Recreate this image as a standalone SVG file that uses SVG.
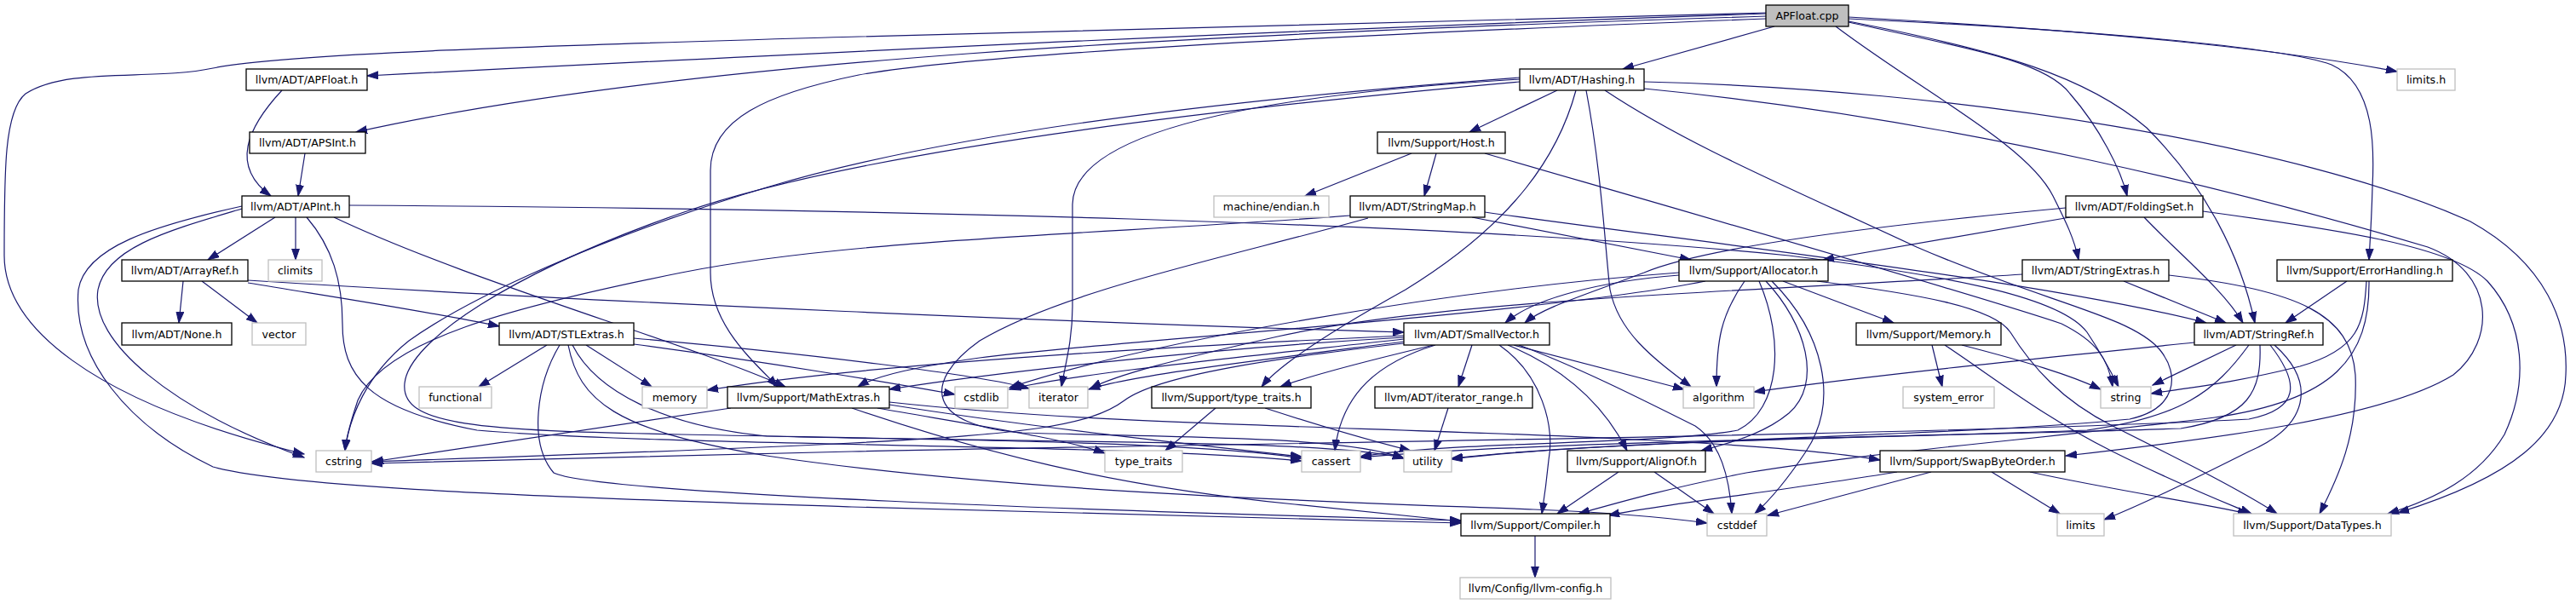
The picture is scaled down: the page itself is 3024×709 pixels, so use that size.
<svg xmlns="http://www.w3.org/2000/svg" width="3024" height="709" viewBox="0 0 3024 709">
<style>
.n rect{fill:#fff;stroke:#000;stroke-width:1.3}
.g rect{fill:#fff;stroke:#bfbfbf;stroke-width:1.3}
.r rect{fill:#bfbfbf;stroke:#000;stroke-width:1.3}
text{font-family:"DejaVu Sans","Liberation Sans",sans-serif;font-size:12.6px;text-anchor:middle;fill:#000}
#edges path{fill:none;stroke:#191970;stroke-width:1.2;marker-end:url(#a)}
</style>
<defs>
<marker id="a" markerWidth="14" markerHeight="10" refX="13" refY="5" orient="auto" markerUnits="userSpaceOnUse"><path d="M0,0.6 L13,5 L0,9.4 z" fill="#191970" stroke="#191970" stroke-width="1"/></marker>
</defs>
<rect width="3024" height="709" fill="#fff"/>
<g id="edges">
<path d="M2073,16 C1500,35 900,65 431,89"/>
<path d="M2073,19 C1400,40 800,70 418,155"/>
<path d="M2075,15 C1600,25 1200,38 1008,43 C700,52 330,62 250,80 C180,95 80,78 30,110 C5,130 5,200 5,300 C5,380 100,470 357,533"/>
<path d="M2083,31 L1905,81"/>
<path d="M2073,22 C1600,40 1150,62 1008,88 C900,110 834,140 834,200 L834,320 C834,380 880,420 913,454"/>
<path d="M2170,26 C2300,55 2400,70 2430,110 C2465,150 2490,200 2497,230"/>
<path d="M2155,31 C2260,110 2380,170 2410,230 C2425,260 2435,280 2440,305"/>
<path d="M2170,25 C2350,60 2450,90 2520,150 C2590,220 2630,300 2647,379"/>
<path d="M2170,22 C2450,35 2680,55 2737,76 C2790,100 2787,180 2785,220 C2784,260 2782,285 2781,305"/>
<path d="M2170,20 C2500,38 2700,62 2814,84"/>
<path d="M331,106 C290,150 270,195 318,230"/>
<path d="M358,180 L350,230"/>
<path d="M323,255 L244,305"/>
<path d="M347,255 L347,305"/>
<path d="M284,245 C200,270 125,290 115,340 C105,400 200,480 357,537"/>
<path d="M284,242 C180,265 100,290 92,340 C85,420 150,500 250,548 C350,575 700,585 1000,595 C1300,605 1600,610 1715,614"/>
<path d="M360,255 C390,290 402,330 402,380 C402,440 430,480 560,505 C800,525 1300,520 1528,541"/>
<path d="M392,255 C550,330 800,400 922,454"/>
<path d="M410,241 C1000,245 1700,260 2100,300 C2300,325 2420,350 2450,390 C2470,420 2480,440 2487,454"/>
<path d="M1828,106 L1725,155"/>
<path d="M1850,106 C1830,180 1780,260 1650,340 C1560,390 1500,430 1481,454"/>
<path d="M1784,93 C1500,110 1260,150 1259,240 L1259,360 C1259,400 1250,430 1246,454"/>
<path d="M1862,106 C1880,200 1885,300 1890,340 C1900,390 1940,420 1985,454"/>
<path d="M1784,91 C1400,120 1100,160 900,220 C700,280 550,350 480,400 C430,440 410,490 405,529"/>
<path d="M1784,96 C1400,130 1000,180 800,250 C600,320 480,400 475,450 C470,500 560,505 800,510 C1100,516 1400,518 1528,538"/>
<path d="M1884,106 C1980,170 2100,220 2250,290 C2400,355 2500,370 2535,410 C2560,440 2555,480 2500,492 C2300,512 1900,516 1704,538"/>
<path d="M1930,96 C2300,105 2700,170 2900,260 C2990,310 3015,380 3012,440 C3010,510 2950,560 2815,602"/>
<path d="M1930,104 C2300,140 2650,230 2850,290 C2930,320 2930,400 2880,440 C2800,490 2600,515 2425,535"/>
<path d="M1657,180 L1532,230"/>
<path d="M1686,180 L1672,230"/>
<path d="M1743,180 C1950,240 2300,340 2420,380 C2460,400 2475,420 2480,454"/>
<path d="M1728,255 L1985,305"/>
<path d="M1743,249 C2000,285 2400,330 2590,379"/>
<path d="M1585,253 C1300,275 1000,280 800,320 C600,360 450,400 420,470 C410,500 406,515 405,529"/>
<path d="M1606,256 C1450,300 1250,340 1150,400 C1080,450 1090,500 1200,508 C1400,514 1580,512 1648,538"/>
<path d="M2425,244 C2200,265 2000,290 1930,320 C1850,350 1810,362 1790,379"/>
<path d="M2430,255 L2140,305"/>
<path d="M2517,255 C2560,300 2610,340 2633,379"/>
<path d="M2586,248 C2750,270 2880,290 2920,330 C2965,380 2968,450 2940,510 C2910,560 2860,585 2803,603"/>
<path d="M2493,330 L2613,379"/>
<path d="M2546,323 C2700,340 2760,370 2765,440 C2768,510 2745,560 2723,603"/>
<path d="M2374,322 C2100,340 1700,350 1500,395 C1380,422 1310,440 1280,456"/>
<path d="M2755,330 L2683,379"/>
<path d="M2778,330 C2775,380 2770,410 2700,430 C2620,450 2570,455 2525,462"/>
<path d="M2781,330 C2782,420 2740,470 2600,490 C2400,515 2200,530 2050,555 C1950,575 1900,590 1853,603"/>
<path d="M215,330 L210,379"/>
<path d="M237,330 L302,379"/>
<path d="M291,332 C400,350 500,365 586,383"/>
<path d="M291,329 C700,355 1300,380 1648,390"/>
<path d="M1971,323 C1880,330 1800,350 1767,379"/>
<path d="M2073,330 C2120,380 2140,450 2100,485 C2070,510 2030,520 1997,529"/>
<path d="M2133,330 C2250,345 2340,360 2360,390 C2385,430 2420,470 2480,500 C2560,540 2630,575 2673,603"/>
<path d="M2002,330 C1800,370 1300,400 1150,420 C1080,430 1030,440 1007,454"/>
<path d="M2093,330 L2223,379"/>
<path d="M2048,330 C2020,370 2015,400 2015,454"/>
<path d="M2065,330 C2095,400 2090,480 2040,505 C1950,522 1700,518 1597,536"/>
<path d="M2080,330 C2140,390 2160,470 2120,530 C2100,560 2080,585 2060,603"/>
<path d="M1971,320 C1700,340 1350,400 1185,455"/>
<path d="M1770,405 C1830,430 1880,470 1910,529"/>
<path d="M1760,405 C1810,440 1825,500 1818,540 C1815,570 1812,590 1810,603"/>
<path d="M1648,396 C1400,410 1150,440 1044,457"/>
<path d="M1683,405 C1620,420 1540,440 1503,454"/>
<path d="M1728,405 L1712,454"/>
<path d="M1777,405 L1977,457"/>
<path d="M1783,405 C1850,430 1920,465 1990,500 C2020,520 2030,560 2033,603"/>
<path d="M1685,405 C1620,425 1575,460 1567,529"/>
<path d="M1648,398 C1450,420 1250,440 1185,457"/>
<path d="M1648,401 C1500,420 1330,440 1278,457"/>
<path d="M1648,394 C1300,410 1000,430 830,458"/>
<path d="M1648,403 C1500,420 1360,440 1320,470 C1280,500 1200,510 1000,520 C800,530 550,538 436,542"/>
<path d="M642,405 L562,454"/>
<path d="M688,405 L765,454"/>
<path d="M744,404 C900,425 1050,450 1121,463"/>
<path d="M744,397 C950,415 1150,440 1208,456"/>
<path d="M657,405 C630,450 620,520 650,555 C700,580 1300,600 1715,611"/>
<path d="M667,405 C680,470 720,505 900,535 C1200,580 1600,590 1800,598 C1900,602 1960,608 2004,614"/>
<path d="M672,405 C700,460 780,500 900,512 C1200,520 1560,515 1648,538"/>
<path d="M858,479 L437,542"/>
<path d="M1000,479 C1150,530 1300,570 1520,592 C1620,602 1680,608 1715,612"/>
<path d="M1030,479 C1150,500 1250,515 1297,532"/>
<path d="M1044,475 C1200,500 1400,522 1528,536"/>
<path d="M1044,472 C1300,500 1600,500 1900,515 C2050,522 2150,530 2207,540"/>
<path d="M1900,554 L1828,603"/>
<path d="M1942,554 L2012,603"/>
<path d="M1427,479 L1368,529"/>
<path d="M1485,479 C1550,500 1620,520 1656,529"/>
<path d="M1700,479 L1684,529"/>
<path d="M2268,405 L2280,454"/>
<path d="M2303,405 C2380,425 2430,440 2466,457"/>
<path d="M2283,405 C2350,450 2400,490 2480,530 C2550,565 2600,585 2643,603"/>
<path d="M2576,402 C2400,420 2200,440 2059,460"/>
<path d="M2625,405 L2527,452"/>
<path d="M2670,405 C2720,450 2710,500 2640,530 C2580,560 2520,590 2470,610"/>
<path d="M2640,405 C2600,460 2560,490 2450,505 C2200,515 1800,518 1597,537"/>
<path d="M2653,405 C2655,460 2640,490 2560,503 C2300,512 1900,515 1704,539"/>
<path d="M2665,405 C2700,450 2700,480 2640,492 C2300,510 1500,520 1000,530 C800,535 600,540 436,544"/>
<path d="M2227,554 C2100,575 1950,592 1888,605"/>
<path d="M2267,554 L2075,605"/>
<path d="M2338,554 L2418,603"/>
<path d="M2383,554 C2480,575 2580,590 2640,603"/>
<path d="M1802,629 L1802,678"/>
</g>
<g id="n-apfloat-cpp" class="r"><rect x="2073" y="6" width="97" height="25"/><text x="2121.5" y="23">APFloat.cpp</text></g>
<g id="n-apfloat-h" class="n"><rect x="289" y="81" width="142" height="25"/><text x="360" y="98">llvm/ADT/APFloat.h</text></g>
<g id="n-hashing" class="n"><rect x="1784" y="81" width="146" height="25"/><text x="1857" y="98">llvm/ADT/Hashing.h</text></g>
<g id="n-limits-h" class="g"><rect x="2814" y="81" width="68" height="25"/><text x="2848" y="98">limits.h</text></g>
<g id="n-apsint" class="n"><rect x="293" y="155" width="136" height="25"/><text x="361" y="172">llvm/ADT/APSInt.h</text></g>
<g id="n-host" class="n"><rect x="1617" y="155" width="150" height="25"/><text x="1692" y="172">llvm/Support/Host.h</text></g>
<g id="n-apint" class="n"><rect x="284" y="230" width="126" height="25"/><text x="347" y="247">llvm/ADT/APInt.h</text></g>
<g id="n-endian" class="g"><rect x="1425" y="230" width="135" height="25"/><text x="1492.5" y="247">machine/endian.h</text></g>
<g id="n-stringmap" class="n"><rect x="1585" y="230" width="158" height="25"/><text x="1664" y="247">llvm/ADT/StringMap.h</text></g>
<g id="n-foldingset" class="n"><rect x="2425" y="230" width="161" height="25"/><text x="2505.5" y="247">llvm/ADT/FoldingSet.h</text></g>
<g id="n-arrayref" class="n"><rect x="143" y="305" width="148" height="25"/><text x="217" y="322">llvm/ADT/ArrayRef.h</text></g>
<g id="n-climits" class="g"><rect x="315" y="305" width="63" height="25"/><text x="346.5" y="322">climits</text></g>
<g id="n-allocator" class="n"><rect x="1971" y="305" width="175" height="25"/><text x="2058.5" y="322">llvm/Support/Allocator.h</text></g>
<g id="n-stringextras" class="n"><rect x="2374" y="305" width="172" height="25"/><text x="2460" y="322">llvm/ADT/StringExtras.h</text></g>
<g id="n-errorhandling" class="n"><rect x="2673" y="305" width="206" height="25"/><text x="2776" y="322">llvm/Support/ErrorHandling.h</text></g>
<g id="n-none" class="n"><rect x="143" y="379" width="129" height="26"/><text x="207.5" y="396.5">llvm/ADT/None.h</text></g>
<g id="n-vector" class="g"><rect x="296" y="379" width="63" height="26"/><text x="327.5" y="396.5">vector</text></g>
<g id="n-stlextras" class="n"><rect x="586" y="379" width="158" height="26"/><text x="665" y="396.5">llvm/ADT/STLExtras.h</text></g>
<g id="n-smallvector" class="n"><rect x="1648" y="379" width="171" height="26"/><text x="1733.5" y="396.5">llvm/ADT/SmallVector.h</text></g>
<g id="n-memory-h" class="n"><rect x="2179" y="379" width="170" height="26"/><text x="2264" y="396.5">llvm/Support/Memory.h</text></g>
<g id="n-stringref" class="n"><rect x="2576" y="379" width="151" height="26"/><text x="2651.5" y="396.5">llvm/ADT/StringRef.h</text></g>
<g id="n-functional" class="g"><rect x="492" y="454" width="85" height="25"/><text x="534.5" y="471">functional</text></g>
<g id="n-memory" class="g"><rect x="754" y="454" width="76" height="25"/><text x="792" y="471">memory</text></g>
<g id="n-mathextras" class="n"><rect x="854" y="454" width="190" height="25"/><text x="949" y="471">llvm/Support/MathExtras.h</text></g>
<g id="n-cstdlib" class="g"><rect x="1121" y="454" width="62" height="25"/><text x="1152" y="471">cstdlib</text></g>
<g id="n-iterator" class="g"><rect x="1208" y="454" width="69" height="25"/><text x="1242.5" y="471">iterator</text></g>
<g id="n-type-traits-h" class="n"><rect x="1352" y="454" width="187" height="25"/><text x="1445.5" y="471">llvm/Support/type_traits.h</text></g>
<g id="n-iterator-range" class="n"><rect x="1614" y="454" width="185" height="25"/><text x="1706.5" y="471">llvm/ADT/iterator_range.h</text></g>
<g id="n-algorithm" class="g"><rect x="1976" y="454" width="83" height="25"/><text x="2017.5" y="471">algorithm</text></g>
<g id="n-system-error" class="g"><rect x="2234" y="454" width="107" height="25"/><text x="2287.5" y="471">system_error</text></g>
<g id="n-string" class="g"><rect x="2466" y="454" width="59" height="25"/><text x="2495.5" y="471">string</text></g>
<g id="n-cstring" class="g"><rect x="371" y="529" width="65" height="25"/><text x="403.5" y="546">cstring</text></g>
<g id="n-type-traits" class="g"><rect x="1297" y="529" width="91" height="25"/><text x="1342.5" y="546">type_traits</text></g>
<g id="n-cassert" class="g"><rect x="1528" y="529" width="69" height="25"/><text x="1562.5" y="546">cassert</text></g>
<g id="n-utility" class="g"><rect x="1648" y="529" width="56" height="25"/><text x="1676" y="546">utility</text></g>
<g id="n-alignof" class="n"><rect x="1840" y="529" width="162" height="25"/><text x="1921" y="546">llvm/Support/AlignOf.h</text></g>
<g id="n-swapbyteorder" class="n"><rect x="2207" y="529" width="217" height="25"/><text x="2315.5" y="546">llvm/Support/SwapByteOrder.h</text></g>
<g id="n-compiler" class="n"><rect x="1715" y="603" width="175" height="26"/><text x="1802.5" y="620.5">llvm/Support/Compiler.h</text></g>
<g id="n-cstddef" class="g"><rect x="2004" y="603" width="70" height="26"/><text x="2039" y="620.5">cstddef</text></g>
<g id="n-limits" class="g"><rect x="2415" y="603" width="55" height="26"/><text x="2442.5" y="620.5">limits</text></g>
<g id="n-datatypes" class="g"><rect x="2622" y="603" width="185" height="26"/><text x="2714.5" y="620.5">llvm/Support/DataTypes.h</text></g>
<g id="n-llvm-config" class="g"><rect x="1714" y="678" width="177" height="25"/><text x="1802.5" y="695">llvm/Config/llvm-config.h</text></g>
</svg>
